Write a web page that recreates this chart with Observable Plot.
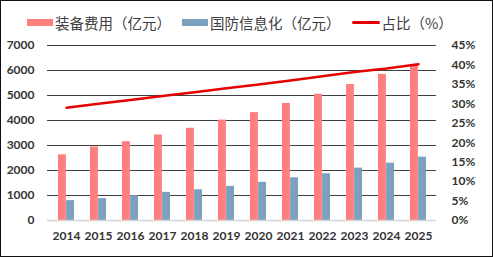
<!DOCTYPE html>
<html><head><meta charset="utf-8">
<script src="https://cdn.jsdelivr.net/npm/d3@7"></script>
<script src="https://cdn.jsdelivr.net/npm/@observablehq/plot@0.6"></script>
<style>
html,body{margin:0;padding:0;background:#fff;}
#frame{position:relative;width:493px;height:257px;box-sizing:border-box;border:1.5px solid #111;overflow:hidden;background:#fff;}
#legend{position:absolute;top:11px;left:26px;display:flex;align-items:center;font-family:"Noto Sans CJK SC",sans-serif;font-size:14.5px;color:#404040;white-space:nowrap;}
.item{display:flex;align-items:center;margin-right:11px;}
.sw{display:inline-block;width:26px;height:7px;margin-right:2px;}
.ln{display:inline-block;width:28px;height:3px;border-radius:2px;margin-right:2px;}
#chart{position:absolute;left:0;top:0;}
</style></head>
<body>
<div id="frame">
  <div id="chart"></div>
  <div id="legend"></div>
</div>
<script>
const years = ["2014","2015","2016","2017","2018","2019","2020","2021","2022","2023","2024","2025"];
const equipment = [2625, 2943, 3155, 3420, 3690, 4017, 4315, 4682, 5052, 5437, 5847, 6245];
const informatization = [795, 875, 994, 1126, 1230, 1364, 1530, 1710, 1870, 2096, 2295, 2534];
const share = [29.0, 30.0, 31.0, 32.0, 33.0, 34.0, 35.0, 36.0, 37.1, 38.2, 39.1, 40.2];
const leftTicks = [0, 1000, 2000, 3000, 4000, 5000, 6000, 7000];
const rightTicks = [0, 5, 10, 15, 20, 25, 30, 35, 40, 45];
const seriesNames = ["装备费用（亿元）", "国防信息化（亿元）", "占比（%）"];
const colors = ["#FF7F7F", "#7BA1BF", "#E60000"];

const yMax = 7000, pMax = 45;
const toY = p => p * yMax / pMax;

const rows = years.map((y, i) => ({year: y, eq: equipment[i], inf: informatization[i], pct: share[i]}));

const font = "Lato, 'Open Sans', sans-serif";
const plot = Plot.plot({
  width: 490, height: 254,
  marginLeft: 46, marginRight: 55, marginTop: 44, marginBottom: 35,
  style: {fontFamily: font, fontSize: "12px", fontWeight: "bold", color: "#333", background: "transparent"},
  x: {domain: years, paddingInner: 0.5, paddingOuter: 0.25, label: null},
  y: {domain: [0, yMax], label: null},
  marks: [
    Plot.ruleY(leftTicks.filter(t => t > 0), {stroke: "#404040", strokeWidth: 1}),
    Plot.barY(rows, {x: "year", y: "eq", fill: colors[0], insetRight: 8.1, insetLeft: 0}),
    Plot.barY(rows, {x: "year", y: "inf", fill: colors[1], insetLeft: 8.1, insetRight: 0}),
    Plot.ruleY([0], {stroke: "#d4d4d4", strokeWidth: 1.5}),
    Plot.lineY(rows, {x: "year", y: d => toY(d.pct), stroke: colors[2], strokeWidth: 2.5}),
    Plot.axisY(leftTicks, {anchor: "left", tickSize: 0, tickPadding: 13, label: null, fill: "#333", tickFormat: d => String(d)}),
    Plot.axisY(rightTicks.map(toY), {anchor: "right", tickSize: 0, tickPadding: 15, label: null, textAnchor: "start",
      tickFormat: v => Math.round(v * pMax / yMax) + "%", fill: "#333"}),
    Plot.axisX({anchor: "bottom", tickSize: 0, tickPadding: 11, label: null, fill: "#333"})
  ]
});
document.getElementById("chart").appendChild(plot);

const legend = document.getElementById("legend");
seriesNames.forEach((name, i) => {
  const it = document.createElement("span");
  it.className = "item";
  const s = document.createElement("span");
  s.className = i < 2 ? "sw" : "ln";
  s.style.background = colors[i];
  it.appendChild(s);
  const t = document.createElement("span");
  t.textContent = name;
  it.appendChild(t);
  legend.appendChild(it);
});
</script>
</body></html>
